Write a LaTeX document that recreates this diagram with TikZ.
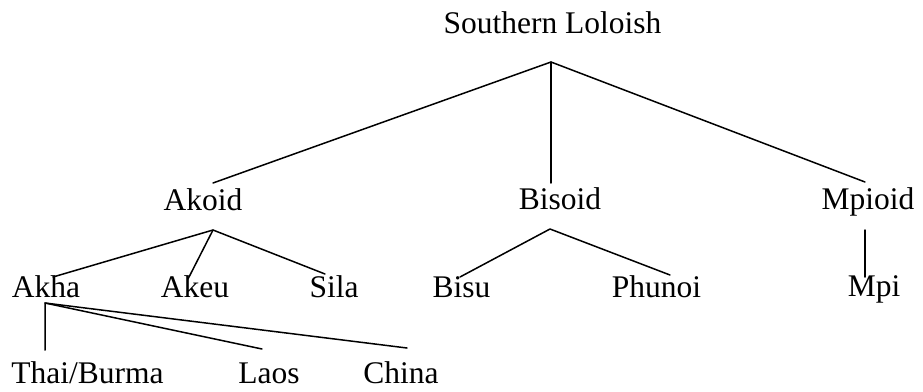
\documentclass[tikz,border=0pt]{standalone}
\usepackage{fontspec}
\setmainfont{Liberation Serif}
\begin{document}
\begin{tikzpicture}[x=1pt,y=-1pt,
  lbl/.style={anchor=base,inner sep=0pt,font=\fontsize{31.5}{36}\selectfont},
  branch/.style={line width=1.5pt,line cap=round,line join=round}]
\useasboundingbox (0,0) rectangle (923,391);
% labels
\node[lbl] (root) at (552.5,33) {Southern Loloish};
\node[lbl] (akoid) at (203,210) {Akoid};
\node[lbl] (bisoid) at (560,209) {Bisoid};
\node[lbl] (mpioid) at (868,209) {Mpioid};
\node[lbl] (akha) at (46,297) {Akha};
\node[lbl] (akeu) at (195,297) {Akeu};
\node[lbl] (sila) at (334,297) {Sila};
\node[lbl] (bisu) at (461.5,297) {Bisu};
\node[lbl] (phunoi) at (656.5,297) {Phunoi};
\node[lbl] (mpi) at (874,296) {Mpi};
\node[lbl] (thai) at (87.5,383) {Thai/Burma};
\node[lbl] (laos) at (269,383) {Laos};
\node[lbl] (china) at (401,383) {China};
% junctions and attachment points
\coordinate (root-j) at (551,62);
\coordinate (akoid-t) at (213,183);
\coordinate (bisoid-t) at (551,183);
\coordinate (mpioid-t) at (865,182);
\coordinate (akoid-j) at (213,230);
\coordinate (bisoid-j) at (550,229);
\coordinate (mpioid-j) at (865,230);
\coordinate (akha-t) at (53,277);
\coordinate (akeu-t) at (188,279);
\coordinate (sila-t) at (325,274);
\coordinate (bisu-t) at (460,277);
\coordinate (phunoi-t) at (670,275);
\coordinate (mpi-t) at (865,277);
\coordinate (akha-j) at (45,303);
\coordinate (thai-t) at (45,350);
\coordinate (laos-t) at (262,349);
\coordinate (china-t) at (407,348);
% connectors
\draw[branch] (akoid-t) -- (root-j) -- (mpioid-t);
\draw[branch] (root-j) -- (bisoid-t);
\draw[branch] (akha-t) -- (akoid-j) -- (sila-t);
\draw[branch] (akoid-j) -- (akeu-t);
\draw[branch] (bisu-t) -- (bisoid-j) -- (phunoi-t);
\draw[branch] (mpioid-j) -- (mpi-t);
\draw[branch] (thai-t) -- (akha-j) -- (laos-t);
\draw[branch] (akha-j) -- (china-t);
\end{tikzpicture}
\end{document}
